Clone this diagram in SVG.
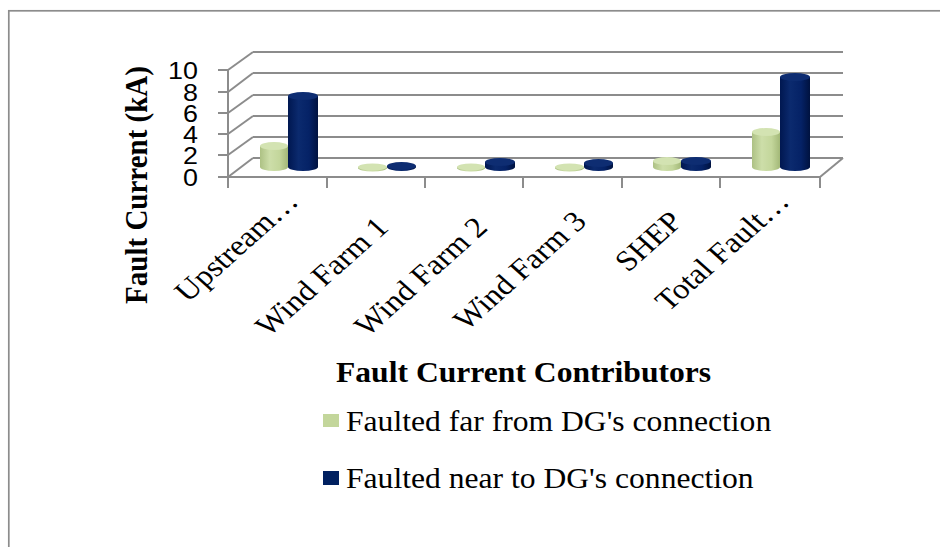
<svg xmlns="http://www.w3.org/2000/svg" width="940" height="547" viewBox="0 0 940 547">
  <defs>
    <linearGradient id="gGreen" x1="0" y1="0" x2="1" y2="0">
      <stop offset="0" stop-color="#adc184"/>
      <stop offset="0.35" stop-color="#cddea9"/>
      <stop offset="0.7" stop-color="#c3d69b"/>
      <stop offset="1" stop-color="#a3b878"/>
    </linearGradient>
    <linearGradient id="gBlue" x1="0" y1="0" x2="1" y2="0">
      <stop offset="0" stop-color="#001750"/>
      <stop offset="0.35" stop-color="#0b2a6e"/>
      <stop offset="0.7" stop-color="#052266"/>
      <stop offset="1" stop-color="#00123f"/>
    </linearGradient>
    <style>
      .grid { stroke: #8c8c8c; stroke-width: 2; fill: none; }
      .frame { stroke: #8c8c8c; stroke-width: 1.7; fill: none; }
      .tick { font-family: 'Liberation Sans', Arial, sans-serif; font-size: 24px; fill: #000; text-anchor: end; }
      .serif { font-family: 'Liberation Serif', 'DejaVu Serif', serif; fill: #000; }
      .title { font-size: 29px; font-weight: bold; }
      .cat { font-size: 29px; text-anchor: end; }
      .legend { font-size: 29px; }
      .gBody { fill: url(#gGreen); }
      .gTop { fill: #d3e3b2; }
      .bBody { fill: url(#gBlue); }
      .bTop { fill: #0e2d72; }
    </style>
  </defs>

  <rect width="940" height="547" fill="#ffffff"/>
  <!-- chart area border (continues past the right and bottom edges) -->
  <rect class="frame" x="8.8" y="10.8" width="960" height="560"/>

  <!-- walls, floor and value gridlines -->
  <g id="axes">
    <g class="grid">
      <!-- back wall gridlines -->
      <line x1="253" y1="52" x2="843" y2="52"/>
      <line x1="253" y1="73" x2="843" y2="73"/>
      <line x1="253" y1="95" x2="843" y2="95"/>
      <line x1="253" y1="116" x2="843" y2="116"/>
      <line x1="253" y1="137" x2="843" y2="137"/>
      <line x1="253" y1="158" x2="843" y2="158"/>
      <!-- side wall -->
      <line x1="228" y1="70" x2="253" y2="52"/>
      <line x1="228" y1="92" x2="253" y2="73"/>
      <line x1="228" y1="113" x2="253" y2="95"/>
      <line x1="228" y1="134" x2="253" y2="116"/>
      <line x1="228" y1="155" x2="253" y2="137"/>
      <line x1="228" y1="177" x2="253" y2="158"/>
      <!-- value axis -->
      <line x1="228" y1="69" x2="228" y2="188"/>
      <line x1="218" y1="70" x2="228" y2="70"/>
      <line x1="218" y1="92" x2="228" y2="92"/>
      <line x1="218" y1="113" x2="228" y2="113"/>
      <line x1="218" y1="134" x2="228" y2="134"/>
      <line x1="218" y1="155" x2="228" y2="155"/>
      <line x1="218" y1="177" x2="228" y2="177"/>
      <!-- floor -->
      <line x1="228" y1="177" x2="820" y2="177"/>
      <line x1="820" y1="177" x2="843" y2="158"/>
      <!-- category ticks -->
      <line x1="327" y1="177" x2="327" y2="188"/>
      <line x1="425" y1="177" x2="425" y2="188"/>
      <line x1="523" y1="177" x2="523" y2="188"/>
      <line x1="622" y1="177" x2="622" y2="188"/>
      <line x1="720" y1="177" x2="720" y2="188"/>
      <line x1="820" y1="177" x2="820" y2="188"/>
    </g>
    <text class="tick" transform="translate(198,79) scale(1.12,1)">10</text>
    <text class="tick" transform="translate(198,101) scale(1.12,1)">8</text>
    <text class="tick" transform="translate(198,122) scale(1.12,1)">6</text>
    <text class="tick" transform="translate(198,143) scale(1.12,1)">4</text>
    <text class="tick" transform="translate(198,164) scale(1.12,1)">2</text>
    <text class="tick" transform="translate(198,186) scale(1.12,1)">0</text>
  </g>

  <!-- cylinders: body with rounded base, then top cap -->
  <g id="bar-upstream">
    <path class="gBody" d="M260 146 V167 A14 4 0 0 0 288 167 V146 Z"/>
    <ellipse class="gTop" cx="274" cy="146" rx="14" ry="4"/>
    <path class="bBody" d="M288 96 V167 A15 4 0 0 0 318 167 V96 Z"/>
    <ellipse class="bTop" cx="303" cy="96" rx="15" ry="4"/>
  </g>
  <g id="bar-windfarm1">
    <path class="gBody" d="M358 167 V168 A14.5 3.5 0 0 0 387 168 V167 Z"/>
    <ellipse class="gTop" cx="372.5" cy="167" rx="14.5" ry="3.5"/>
    <path class="bBody" d="M387 166 V167 A14.5 4 0 0 0 416 167 V166 Z"/>
    <ellipse class="bTop" cx="401.5" cy="166" rx="14.5" ry="4"/>
  </g>
  <g id="bar-windfarm2">
    <path class="gBody" d="M457 167 V168 A14 3.5 0 0 0 485 168 V167 Z"/>
    <ellipse class="gTop" cx="471" cy="167" rx="14" ry="3.5"/>
    <path class="bBody" d="M485 162 V167 A15 4 0 0 0 515 167 V162 Z"/>
    <ellipse class="bTop" cx="500" cy="162" rx="15" ry="4"/>
  </g>
  <g id="bar-windfarm3">
    <path class="gBody" d="M555 167 V168 A14.5 3.5 0 0 0 584 168 V167 Z"/>
    <ellipse class="gTop" cx="569.5" cy="167" rx="14.5" ry="3.5"/>
    <path class="bBody" d="M584 163 V167 A14.5 4 0 0 0 613 167 V163 Z"/>
    <ellipse class="bTop" cx="598.5" cy="163" rx="14.5" ry="4"/>
  </g>
  <g id="bar-shep">
    <path class="gBody" d="M653 161 V167 A14 4 0 0 0 681 167 V161 Z"/>
    <ellipse class="gTop" cx="667" cy="161" rx="14" ry="4"/>
    <path class="bBody" d="M681 161 V167 A15 4 0 0 0 711 167 V161 Z"/>
    <ellipse class="bTop" cx="696" cy="161" rx="15" ry="4"/>
  </g>
  <g id="bar-total">
    <path class="gBody" d="M752 132 V167 A14 4 0 0 0 780 167 V132 Z"/>
    <ellipse class="gTop" cx="766" cy="132" rx="14" ry="4"/>
    <path class="bBody" d="M780 77 V167 A15 4 0 0 0 810 167 V77 Z"/>
    <ellipse class="bTop" cx="795" cy="77" rx="15" ry="4"/>
  </g>

  <!-- category labels -->
  <g id="category-labels" class="serif">
    <text class="cat" transform="translate(300,203) scale(1.12,1) rotate(-45)">Upstream…</text>
    <text class="cat" transform="translate(390,229) scale(1.12,1) rotate(-45)">Wind Farm 1</text>
    <text class="cat" transform="translate(489,229) scale(1.12,1) rotate(-45)">Wind Farm 2</text>
    <text class="cat" transform="translate(588,223) scale(1.12,1) rotate(-45)">Wind Farm 3</text>
    <text class="cat" transform="translate(684,223) scale(1.12,1) rotate(-45)">SHEP</text>
    <text class="cat" transform="translate(791,203) scale(1.12,1) rotate(-45)">Total Fault…</text>
  </g>

  <!-- axis titles -->
  <text id="y-title" class="serif title" text-anchor="middle" transform="translate(147,185) scale(1.1,1) rotate(-90)">Fault Current (kA)</text>
  <text id="x-title" class="serif title" transform="translate(336,382) scale(1.09,1)">Fault Current Contributors</text>

  <!-- legend -->
  <g id="legend" class="serif">
    <g id="legend-far">
      <rect x="323" y="414" width="16" height="13" fill="#c3d69b"/>
      <text class="legend" transform="translate(346,431) scale(1.09,1)">Faulted far from DG's connection</text>
    </g>
    <g id="legend-near">
      <rect x="323" y="471" width="16" height="14" fill="#002060"/>
      <text class="legend" transform="translate(346,488) scale(1.09,1)">Faulted near to DG's connection</text>
    </g>
  </g>
</svg>
